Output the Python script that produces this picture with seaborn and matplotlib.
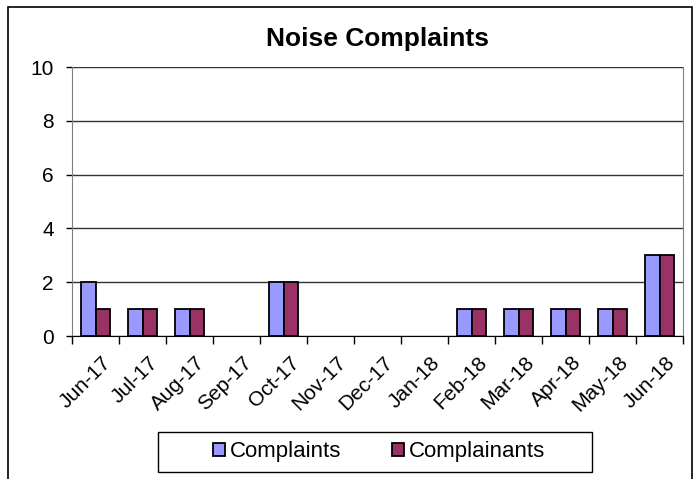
import pandas as pd
import matplotlib.pyplot as plt
import matplotlib.transforms as mtransforms
import seaborn as sns
from matplotlib.patches import Rectangle, Patch

# chart data
months = ["Jun-17", "Jul-17", "Aug-17", "Sep-17", "Oct-17", "Nov-17", "Dec-17",
          "Jan-18", "Feb-18", "Mar-18", "Apr-18", "May-18", "Jun-18"]
complaints = [2, 1, 1, 0, 2, 0, 0, 0, 1, 1, 1, 1, 3]
complainants = [1, 1, 1, 0, 2, 0, 0, 0, 1, 1, 1, 1, 3]
series_names = ["Complaints", "Complainants"]
colors = ["#9999FF", "#993366"]

df = pd.DataFrame({
    "Month": months * 2,
    "Count": complaints + complainants,
    "Series": [series_names[0]] * len(months) + [series_names[1]] * len(months),
})

sns.set_style("white")
plt.rcParams['font.family'] = ['Liberation Sans', 'DejaVu Sans']
plt.rcParams['text.color'] = 'black'
plt.rcParams['xtick.color'] = 'black'
plt.rcParams['ytick.color'] = 'black'

fig = plt.figure(figsize=(6.97, 4.79), dpi=100)
ax = fig.add_axes([0.1033, 0.2985, 0.8767, 0.5615])

sns.barplot(data=df, x="Month", y="Count", hue="Series", order=months,
            hue_order=series_names, palette=colors, width=0.6, saturation=1,
            edgecolor="black", linewidth=1.3, legend=False, ax=ax)

# Excel doesn't draw zero-height bars
for bar in ax.patches:
    if bar.get_height() == 0:
        bar.set_visible(False)

ax.set_ylim(0, 10)
ax.set_xlim(-0.5, len(months) - 0.5)
ax.set_yticks(range(0, 11, 2))
ax.yaxis.grid(True, color="#333333", linewidth=1)
ax.set_axisbelow(True)
ax.set_xlabel("")
ax.set_ylabel("")
ax.set_title("Noise Complaints", fontsize=19, fontweight="bold", pad=15)

# category boundaries as tick marks, labels at centres
ax.set_xticks(range(len(months)))
ax.set_xticklabels(months, rotation=45, ha="right", rotation_mode="anchor", fontsize=15)
ax.set_xticks([i - 0.5 for i in range(len(months) + 1)], minor=True)
ax.tick_params(axis="x", which="major", length=0, pad=12)
ax.tick_params(axis="x", which="minor", length=6, color="black", width=1, direction="out", bottom=True)
ax.tick_params(axis="y", length=4, color="black", width=1, direction="out", left=True,
               labelsize=15, pad=9)
shift = mtransforms.ScaledTranslation(6 / 100, 0, fig.dpi_scale_trans)
for lbl in ax.get_xticklabels():
    lbl.set_transform(lbl.get_transform() + shift)

for side in ["left", "right"]:
    ax.spines[side].set_color("#808080")
ax.spines["bottom"].set_color("black")
ax.spines["top"].set_visible(False)

# legend without its own frame, box drawn separately (Excel has wide side padding)
handles = [Patch(facecolor=c, edgecolor="black", linewidth=1.3) for c in colors]
leg = fig.legend(handles, series_names, loc="center", bbox_to_anchor=(379 / 697, 0.0564),
                 ncol=2, frameon=False, fontsize=16, handlelength=0.55, handleheight=0.55,
                 handletextpad=0.2, columnspacing=2.3, borderpad=0, borderaxespad=0)
fig.patches.append(Rectangle((158 / 697, 7 / 479), 434 / 697, 40 / 479,
                             transform=fig.transFigure, fill=False,
                             edgecolor="black", linewidth=1))

# outer chart border
fig.patches.append(Rectangle((8 / 697, -0.01), (692 - 8) / 697, (479 - 7) / 479 + 0.01,
                             transform=fig.transFigure, fill=False,
                             edgecolor="black", linewidth=1.2))

fig.savefig("out.png", dpi=100)
